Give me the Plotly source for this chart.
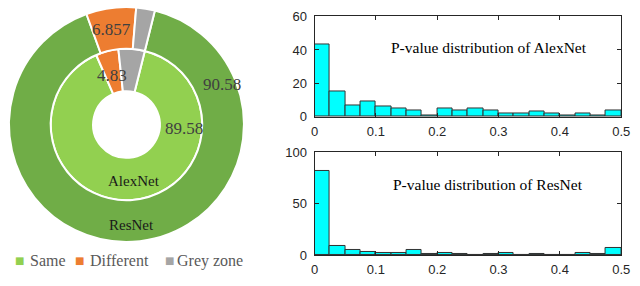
import plotly.graph_objects as go

# ---------------- data ----------------
categories = ["Same", "Different", "Grey zone"]
alexnet_share = [89.58, 4.83, 5.59]
resnet_share = [90.58, 6.857, 2.563]
ring_names = ["AlexNet", "ResNet"]

bin_starts = [0.000, 0.025, 0.050, 0.075, 0.100, 0.125, 0.150, 0.175, 0.200, 0.225,
              0.250, 0.275, 0.300, 0.325, 0.350, 0.375, 0.400, 0.425, 0.450, 0.475]
alexnet_counts = [43, 15, 7, 9, 6, 5, 4, 1, 5, 4, 5, 4, 2, 2, 3, 2, 1, 2, 1, 4]
resnet_counts = [82, 9, 5, 3, 2, 2, 5, 1, 2, 1, 0, 1, 2, 0, 1, 0, 0, 2, 1, 7]
x_tickvals = [0, 0.1, 0.2, 0.3, 0.4, 0.5]
x_ticktext = ["0", "0.1", "0.2", "0.3", "0.4", "0.5"]
hist_titles = ["P-value distribution of AlexNet", "P-value distribution of ResNet"]

# ---------------- styles ----------------
W, H = 640, 286
outer_colors = ["#70AD47", "#ED7D31", "#A5A5A5"]
inner_colors = ["#92D050", "#ED7D31", "#A5A5A5"]
serif = "Liberation Serif"
sans = "Liberation Sans"
axis_col = "#262626"

def px(x):
    return x / W

def py(y):
    return 1 - y / H

cx, cy = 125, 124
r_out, r_in = 124, 80

fig = go.Figure()

# inner ring (AlexNet)
fig.add_trace(go.Pie(
    labels=categories, values=alexnet_share, name=ring_names[0],
    marker=dict(colors=inner_colors, line=dict(color="white", width=2)),
    hole=0.44, sort=False, direction="clockwise", rotation=14,
    textinfo="none", hoverinfo="label+value", showlegend=False,
    domain=dict(x=[px(cx - r_in), px(cx + r_in)], y=[py(cy + r_in), py(cy - r_in)]),
))
# outer ring (ResNet)
fig.add_trace(go.Pie(
    labels=categories, values=resnet_share, name=ring_names[1],
    marker=dict(colors=outer_colors, line=dict(color="white", width=2)),
    hole=0.645, sort=False, direction="clockwise", rotation=14,
    textinfo="none", hoverinfo="label+value", showlegend=False,
    domain=dict(x=[px(cx - r_out), px(cx + r_out)], y=[py(cy + r_out), py(cy - r_out)]),
))

bar_style = dict(marker=dict(color="#00FFFF", line=dict(color="#333333", width=1)),
                 width=0.025, offset=0, showlegend=False)
fig.add_trace(go.Bar(x=bin_starts, y=alexnet_counts, xaxis="x", yaxis="y", **bar_style))
fig.add_trace(go.Bar(x=bin_starts, y=resnet_counts, xaxis="x2", yaxis="y2", **bar_style))

axis_common = dict(showline=True, mirror="ticks", linecolor=axis_col, linewidth=1,
                   ticks="inside", ticklen=4, tickcolor=axis_col, showgrid=False,
                   zeroline=False, tickfont=dict(family=sans, size=13, color=axis_col))

x_left, x_right = px(317), px(630)
fig.update_layout(
    width=W, height=H, margin=dict(l=0, r=0, t=0, b=0),
    paper_bgcolor="white", plot_bgcolor="white", bargap=0,
    xaxis=dict(domain=[x_left, x_right], range=[0, 0.5], anchor="y",
               tickvals=x_tickvals, ticktext=x_ticktext, ticklabelstandoff=2, **axis_common),
    yaxis=dict(domain=[py(116), py(10)], range=[0, 60], dtick=20, anchor="x",
               ticklabelstandoff=4, **axis_common),
    xaxis2=dict(domain=[x_left, x_right], range=[0, 0.5], anchor="y2",
                tickvals=x_tickvals, ticktext=x_ticktext, ticklabelstandoff=2, **axis_common),
    yaxis2=dict(domain=[py(262), py(153)], range=[0, 100], dtick=50, anchor="x2",
                ticklabelstandoff=4, **axis_common),
)

annotations = []

def add_text(x, y, text, size, color, family=serif, xanchor="center"):
    annotations.append(dict(x=px(x), y=py(y), xref="paper", yref="paper", text=text,
                            showarrow=False, xanchor=xanchor, yanchor="middle",
                            font=dict(family=family, size=size, color=color)))

# donut data labels
num_col = "#404040"
add_text(110, 24, f"{resnet_share[1]:.3f}".rstrip("0"), 17, num_col)
add_text(110, 72, f"{alexnet_share[1]:.2f}", 17, num_col)
add_text(222.5, 82, f"{resnet_share[0]:.2f}", 17, num_col)
add_text(183.5, 128, f"{alexnet_share[0]:.2f}", 17, num_col)
add_text(133, 184, ring_names[0], 15, "#1a1a1a")
add_text(130, 230, ring_names[1], 15, "#1a1a1a")

# legend
legend_sq_x = [16, 77, 169]
legend_tx_x = [24, 86, 175]
for cat, col, sx, tx in zip(categories, inner_colors, legend_sq_x, legend_tx_x):
    add_text(sx, 268, "■", 10, col, family="DejaVu Sans")
    add_text(tx, 268, cat, 16, "#595959", xanchor="left")

# histogram titles
add_text(495, 43, hist_titles[0], 15.5, "#000000")
add_text(494, 187, hist_titles[1], 15.5, "#000000")

fig.update_layout(annotations=annotations)

fig.write_html("out.html", config={"displayModeBar": False},
               post_script="document.body.style.margin='0px';document.body.style.padding='0px';")
